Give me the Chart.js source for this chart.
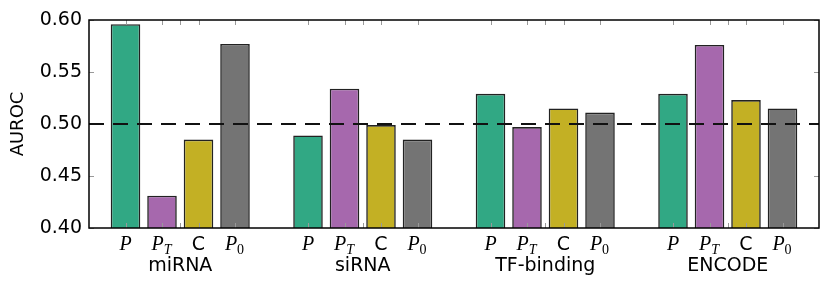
<!doctype html>
<html lang="en">
  <head>
    <meta charset="UTF-8" />
    <title>AUROC by dataset</title>
    <script src="https://cdn.jsdelivr.net/npm/chart.js"></script>
    <style>
      html, body { margin: 0; padding: 0; background: #fff; }
      .chart-container { width: 831px; height: 288px; position: relative; }
    </style>
  </head>
  <body>
    <div class="chart-container">
      <canvas id="aurocChart"></canvas>
    </div>

    <script>
      // groups along the x axis, four methods per group
      const groups = ['miRNA', 'siRNA', 'TF-binding', 'ENCODE']
      const methodBase = ['P', 'P', 'C', 'P']
      const methodSub = ['', 'T', '', '0']
      const methodItalic = [true, true, false, true]

      // AUROC, one value per group
      const valuesP = [0.596, 0.489, 0.529, 0.529]
      const valuesPT = [0.431, 0.534, 0.497, 0.576]
      const valuesC = [0.485, 0.499, 0.515, 0.523]
      const valuesP0 = [0.577, 0.485, 0.511, 0.515]

      const yTicks = [0.4, 0.45, 0.5, 0.55, 0.6]
      const chanceLevel = 0.5

      const seriesValues = [valuesP, valuesPT, valuesC, valuesP0]
      const seriesColors = ['#31a884', '#a668ad', '#c3b024', '#747474']
      const slotsPerGroup = 5

      const datasets = seriesValues.map((vals, m) => ({
        label: methodBase[m] + methodSub[m],
        data: vals.map((v, g) => ({ x: g * slotsPerGroup + m, y: v })),
        backgroundColor: seriesColors[m],
        borderColor: '#222',
        borderWidth: 1.6,
        base: 0.4,
        grouped: false,
        barPercentage: 0.81,
        categoryPercentage: 1.0,
      }))

      const decorations = {
        id: 'decorations',
        afterDatasetsDraw(chart) {
          const { ctx, chartArea: a, scales } = chart
          const xs = scales.x
          const ys = scales.y
          ctx.save()

          // small inward ticks, matplotlib style
          ctx.strokeStyle = '#999'
          ctx.lineWidth = 1
          yTicks.forEach((t) => {
            const y = Math.round(ys.getPixelForValue(t)) + 0.5
            ctx.beginPath()
            ctx.moveTo(a.left, y)
            ctx.lineTo(a.left + 5, y)
            ctx.moveTo(a.right, y)
            ctx.lineTo(a.right - 5, y)
            ctx.stroke()
          })
          groups.forEach((g, gi) => {
            const pos = [0, 1, 1.5, 2, 3].map((o) => gi * slotsPerGroup + o)
            pos.forEach((p) => {
              const x = Math.round(xs.getPixelForValue(p)) + 0.5
              ctx.beginPath()
              ctx.moveTo(x, a.top)
              ctx.lineTo(x, a.top + 5)
              ctx.moveTo(x, a.bottom)
              ctx.lineTo(x, a.bottom - 5)
              ctx.stroke()
            })
          })

          // dashed chance line
          const y5 = ys.getPixelForValue(chanceLevel)
          ctx.strokeStyle = '#111'
          ctx.lineWidth = 2
          ctx.setLineDash([15, 9])
          ctx.beginPath()
          ctx.moveTo(a.left, y5)
          ctx.lineTo(a.right, y5)
          ctx.stroke()
          ctx.setLineDash([])

          // frame
          ctx.strokeStyle = '#000'
          ctx.lineWidth = 1.5
          ctx.strokeRect(a.left, a.top, a.right - a.left, a.bottom - a.top)

          // method labels under each bar, group names below
          ctx.fillStyle = '#000'
          ctx.textBaseline = 'alphabetic'
          groups.forEach((g, gi) => {
            methodBase.forEach((b, m) => {
              const cx = xs.getPixelForValue(gi * slotsPerGroup + m)
              const baseFont = methodItalic[m] ? 'italic 20px "Liberation Serif"' : '19px "DejaVu Sans"'
              const subFont = 'italic 14px "Liberation Serif"'
              const sub = methodSub[m]
              ctx.font = baseFont
              const bw = ctx.measureText(b).width
              ctx.font = subFont
              const sw = sub ? ctx.measureText(sub).width + 1 : 0
              const x0 = cx - (bw + sw) / 2
              ctx.textAlign = 'left'
              ctx.font = baseFont
              ctx.fillText(b, x0, 250)
              if (sub) {
                ctx.font = sub === '0' ? '14px "Liberation Serif"' : subFont
                ctx.fillText(sub, x0 + bw, 254)
              }
            })
            ctx.font = '19px "DejaVu Sans"'
            ctx.textAlign = 'center'
            ctx.fillText(g, xs.getPixelForValue(gi * slotsPerGroup + 1.5), 271)
          })
          ctx.restore()
        },
      }

      new Chart(document.getElementById('aurocChart'), {
        type: 'bar',
        data: { datasets },
        options: {
          responsive: true,
          maintainAspectRatio: false,
          animation: false,
          layout: { padding: { top: 20, right: 12, bottom: 0, left: 0 } },
          plugins: { legend: { display: false }, tooltip: { enabled: false } },
          scales: {
            x: {
              type: 'linear',
              min: -1,
              max: 19,
              offset: false,
              grid: { display: false },
              border: { display: false },
              ticks: { display: false },
              afterFit: (scale) => {
                scale.height = 60
              },
            },
            y: {
              min: 0.4,
              max: 0.6,
              grid: { display: false, drawTicks: false },
              border: { display: false },
              ticks: {
                stepSize: 0.05,
                padding: 7,
                color: '#000',
                font: { family: 'DejaVu Sans', size: 19 },
                callback: (v) => Number(v).toFixed(2),
              },
              title: {
                display: true,
                text: 'AUROC',
                color: '#000',
                font: { family: 'DejaVu Sans', size: 18 },
                padding: { top: 8, bottom: 0 },
              },
              afterFit: (scale) => {
                scale.width = 89
              },
            },
          },
        },
        plugins: [decorations],
      })
    </script>
  </body>
</html>
